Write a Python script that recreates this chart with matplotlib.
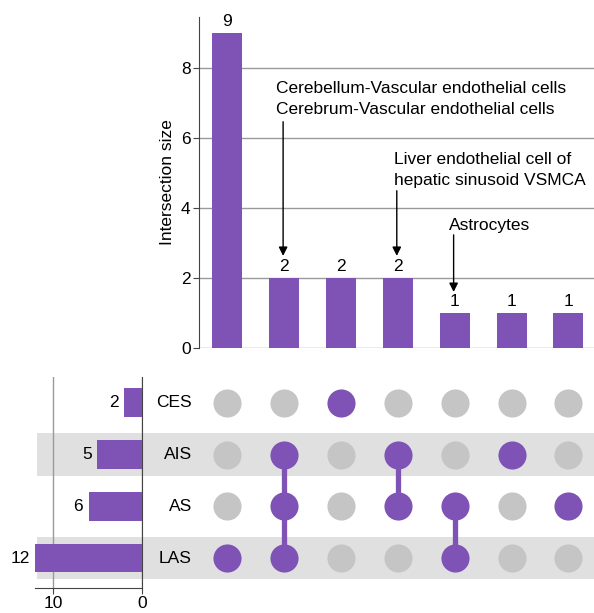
import numpy as np
import matplotlib.pyplot as plt
import matplotlib.patches as mpatches

plt.rcParams['font.family'] = ['Liberation Sans', 'DejaVu Sans']
plt.rcParams['font.size'] = 12.5

# data
sets = ['CES', 'AIS', 'AS', 'LAS']          # top to bottom in matrix
set_sizes = [2, 5, 6, 12]
inter_sizes = [9, 2, 2, 2, 1, 1, 1]
# membership per column, listed as the sets taking part
members = [
    ['LAS'],
    ['AIS', 'AS', 'LAS'],
    ['CES'],
    ['AIS', 'AS'],
    ['AS', 'LAS'],
    ['AIS'],
    ['AS'],
]
notes = [
    (1, 'Cerebellum-Vascular endothelial cells\nCerebrum-Vascular endothelial cells'),
    (3, 'Liver endothelial cell of\nhepatic sinusoid VSMCA'),
    (4, 'Astrocytes'),
]

purple = '#7f52b5'
dot_grey = '#c4c5c4'
shade = '#e0e0e0'
grid_c = '#9a9a9a'
spine_c = '#444444'
fs = 12.5

W, H = 594, 613
fig = plt.figure(figsize=(W / 100, H / 100), dpi=100)

def fx(px):
    return px / W

def fy(py):
    return 1 - py / H

ncol = len(inter_sizes)
xl = (-0.5, 6.45)
top_left, top_right = 199, 594
upp = (xl[1] - xl[0]) / (top_right - top_left)   # data units per pixel

# ---- intersection bars ----
ax = fig.add_axes([fx(top_left), fy(348), fx(top_right - top_left), (348 - 17) / H])
xs = np.arange(ncol)
ax.bar(xs, inter_sizes, width=0.53, color=purple, zorder=3)
for x, v in zip(xs, inter_sizes):
    ax.text(x, v + 0.1, str(v), ha='center', va='bottom', fontsize=fs)
ax.set_xlim(*xl)
ax.set_ylim(0, 9.45)
ax.set_yticks([0, 2, 4, 6, 8])
ax.yaxis.grid(True, color=grid_c, lw=1)
ax.set_axisbelow(True)
ax.set_xticks([])
for s in ['top', 'right', 'bottom']:
    ax.spines[s].set_visible(False)
ax.spines['left'].set_color(spine_c)
ax.tick_params(axis='y', colors=spine_c, labelcolor='black', labelsize=fs, length=4, pad=2)
ax.set_ylabel('Intersection size', fontsize=fs, labelpad=4)

# text bottom, arrow start, arrow end (data units), text x offset (px)
ann_pos = {1: (6.6, 6.46, 2.63, -8), 3: (4.56, 4.49, 2.63, -4), 4: (3.28, 3.23, 1.6, -6)}
for col, txt in notes:
    ty, y0, y1, dx = ann_pos[col]
    ax.text(col + dx * upp, ty, txt, ha='left', va='bottom', fontsize=fs, linespacing=1.5)
    ax.annotate('', xy=(col - 0.02, y1), xytext=(col - 0.02, y0),
                arrowprops=dict(arrowstyle='-|>', color='black', lw=1,
                                mutation_scale=13, shrinkA=0, shrinkB=0))

# ---- matrix ----
mat_left = 37
axm = fig.add_axes([fx(mat_left), fy(588), fx(W - mat_left), (588 - 377) / H])
axm.set_xlim(xl[0] - (top_left - mat_left) * upp, xl[1])
nrow = len(sets)
ypos = {s: nrow - 1 - i for i, s in enumerate(sets)}
axm.set_ylim(-0.58, nrow - 0.5)
for i, s in enumerate(sets):
    if i % 2 == 1:
        axm.add_patch(mpatches.Rectangle((axm.get_xlim()[0], ypos[s] - 0.41),
                                         100, 0.82, color=shade, zorder=0, lw=0))
    axm.text(-0.5 - 7 * upp, ypos[s], s, ha='right', va='center', fontsize=fs)
for c, m in enumerate(members):
    for s in sets:
        on = s in m
        axm.scatter(c, ypos[s], s=410, color=purple if on else dot_grey, zorder=3, lw=0)
    if len(m) > 1:
        yy = [ypos[s] for s in m]
        axm.plot([c, c], [min(yy), max(yy)], color=purple, lw=3.8, zorder=2)
axm.axis('off')

# ---- set size bars ----
axl = fig.add_axes([fx(35), fy(588), fx(142 - 35), (588 - 377) / H])
axl.patch.set_alpha(0)
axl.barh([ypos[s] for s in sets], set_sizes, height=0.56, color=purple, zorder=3)
for s, v in zip(sets, set_sizes):
    axl.text(v + 0.6, ypos[s], str(v), ha='right', va='center', fontsize=fs)
axl.set_xlim(12, 0)
axl.set_ylim(-0.58, nrow - 0.5)
axl.set_xticks([10, 0])
axl.xaxis.grid(True, color=grid_c, lw=1)
axl.set_axisbelow(True)
axl.set_yticks([])
for s in ['top', 'left']:
    axl.spines[s].set_visible(False)
axl.spines['bottom'].set_color(spine_c)
axl.spines['right'].set_color(spine_c)
axl.tick_params(axis='x', colors=spine_c, labelcolor='black', labelsize=fs, length=4, pad=2)

fig.savefig('out.png', dpi=100)
